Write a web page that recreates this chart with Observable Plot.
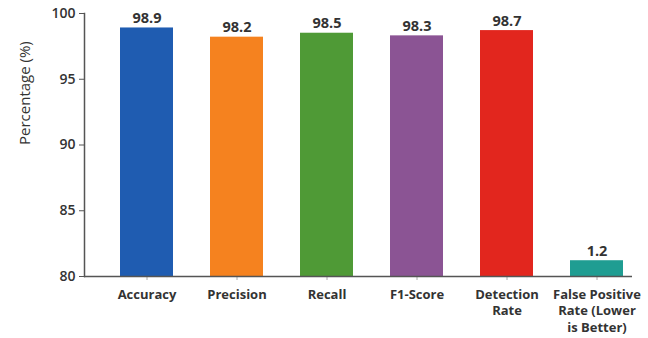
<!DOCTYPE html>
<html>
<head>
<meta charset="utf-8">
<script src="https://cdn.jsdelivr.net/npm/d3@7"></script>
<script src="https://cdn.jsdelivr.net/npm/@observablehq/plot@0.6"></script>
<style>
  html, body { margin: 0; padding: 0; background: #ffffff; }
</style>
</head>
<body>
<div id="chart"></div>
<script>
const categories = ["Accuracy", "Precision", "Recall", "F1-Score", "Detection\nRate", "False Positive\nRate (Lower\nis Better)"];
const values = [98.9, 98.2, 98.5, 98.3, 98.7, 1.2];
const colors = ["#1f5cb1", "#f5821f", "#4f9a36", "#8b5494", "#e2261e", "#1f9d92"];
const yTicks = [80, 85, 90, 95, 100];
const yBase = 80;

// The low-is-better metric is drawn as a stub above the axis base, as in the original.
const data = categories.map((c, i) => ({
  cat: c,
  value: values[i],
  top: values[i] < yBase ? yBase + values[i] : values[i],
  color: colors[i]
}));

const chart = Plot.plot({
  width: 648,
  height: 338,
  marginLeft: 84,
  marginRight: 16,
  marginTop: 13,
  marginBottom: 62,
  style: { fontFamily: "'Open Sans', sans-serif", background: "#ffffff", color: "#333" },
  x: { domain: categories, paddingInner: 0.41, paddingOuter: 0.243, align: 0.8 },
  y: { domain: [80, 100] },
  color: { type: "identity" },
  marks: [
    Plot.barY(data, { x: "cat", y1: yBase, y2: "top", fill: "color" }),
    Plot.text(data, {
      x: "cat", y: "top", text: d => d.value.toFixed(1),
      lineAnchor: "bottom", dy: -5, fontSize: 14.5, fontWeight: 700, fill: "#333"
    }),
    Plot.axisY({
      ticks: yTicks, tickSize: 5, tickPadding: 4, label: null,
      fontSize: 14, fontWeight: 600, stroke: "#555", fill: "#333"
    }),
    Plot.axisX({
      tickSize: 4, tickPadding: 6, label: null, fontSize: 13, fontWeight: 700,
      lineHeight: 1.3, stroke: "#aaa", fill: "#333"
    }),
    Plot.frame({ anchor: "left", stroke: "#555", strokeWidth: 1.5 }),
    Plot.ruleY([yBase], { stroke: "#555", strokeWidth: 1.5 }),
    Plot.text(["Percentage (%)"], {
      frameAnchor: "left", rotate: -90, dx: -59, fontSize: 15, fill: "#333"
    })
  ]
});

document.getElementById("chart").appendChild(chart);
</script>
</body>
</html>
